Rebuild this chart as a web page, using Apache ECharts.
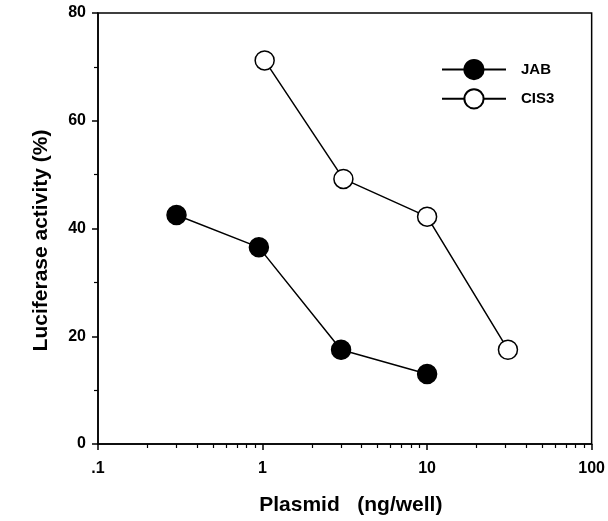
<!DOCTYPE html>
<html>
<head>
<meta charset="utf-8">
<script src="https://cdn.jsdelivr.net/npm/echarts@6/dist/echarts.min.js"></script>
<style>
  html, body { margin: 0; padding: 0; background: #fff; }
  #chart { width: 608px; height: 521px; }
</style>
</head>
<body>
<div id="chart"></div>
<script>
// plasmid amount (ng/well) vs luciferase activity (%)
var jabData = [[0.3, 42.5], [0.95, 36.5], [3, 17.5], [10, 13]]
var cis3Data = [[1.03, 71.2], [3.1, 49.2], [10, 42.2], [31, 17.5]]
var xMinorTicks = [0.2, 0.3, 0.4, 0.5, 0.6, 0.7, 0.8, 0.9,
    2, 3, 4, 5, 6, 7, 8, 9, 20, 30, 40, 50, 60, 70, 80, 90]
var xLabels = {0.1: '.1', 1: '1', 10: '10', 100: '100'}

var font = 'Liberation Sans, Arial, Helvetica, sans-serif'
var myChart = echarts.init(document.getElementById('chart'))

var option = {
    backgroundColor: '#fff',
    animation: false,
    grid: {
        left: 98, right: 15, top: 13, bottom: 75,
        show: true, borderColor: '#000', borderWidth: 1.5
    },
    legend: {
        orient: 'vertical',
        left: 436, top: 54,
        itemWidth: 64, itemHeight: 24, itemGap: 8,
        textStyle: { fontFamily: font, fontWeight: 'bold', fontSize: 15, color: '#000', padding: [0, 0, 0, 10] },
        data: ['JAB', 'CIS3']
    },
    xAxis: [{
        type: 'log', logBase: 10, min: 0.1, max: 100,
        name: 'Plasmid   (ng/well)', nameLocation: 'middle', nameGap: 51,
        nameTextStyle: { fontFamily: font, fontWeight: 'bold', fontSize: 21, color: '#000', padding: [0, 0, 0, 12] },
        axisLine: { lineStyle: { color: '#000', width: 1.5 } },
        axisTick: { length: 6, lineStyle: { color: '#000', width: 1.5 } },
        axisLabel: {
            margin: 17, fontFamily: font, fontWeight: 'bold', fontSize: 16, color: '#000',
            formatter: function (v) { return xLabels[v] !== undefined ? xLabels[v] : '' }
        },
        splitLine: { show: false }
    }, {
        type: 'log', logBase: 10, min: 0.1, max: 100, position: 'bottom',
        axisLine: { show: false },
        axisTick: { length: 4, customValues: xMinorTicks, lineStyle: { color: '#000', width: 1.2 } },
        axisLabel: { show: false },
        splitLine: { show: false }
    }],
    yAxis: {
        type: 'value', min: 0, max: 80, interval: 20,
        name: 'Luciferase activity (%)', nameLocation: 'middle', nameGap: 46,
        nameTextStyle: { fontFamily: font, fontWeight: 'bold', fontSize: 21, color: '#000', padding: [0, 24, 0, 0] },
        axisLine: { show: true, lineStyle: { color: '#000', width: 1.5 } },
        axisTick: { show: true, length: 6, lineStyle: { color: '#000', width: 1.5 } },
        minorTick: { show: true, splitNumber: 2, length: 4, lineStyle: { color: '#000', width: 1.2 } },
        axisLabel: { margin: 12, fontFamily: font, fontWeight: 'bold', fontSize: 16, color: '#000' },
        splitLine: { show: false }
    },
    series: [{
        name: 'JAB',
        type: 'line',
        data: jabData,
        symbol: 'circle',
        symbolSize: 19,
        lineStyle: { color: '#000', width: 1.5 },
        itemStyle: { color: '#000', borderColor: '#000', borderWidth: 1.5 }
    }, {
        name: 'CIS3',
        type: 'line',
        data: cis3Data,
        symbol: 'circle',
        symbolSize: 19,
        lineStyle: { color: '#000', width: 1.5 },
        itemStyle: { color: '#fff', borderColor: '#000', borderWidth: 1.5 }
    }]
}
myChart.setOption(option)
</script>
</body>
</html>
